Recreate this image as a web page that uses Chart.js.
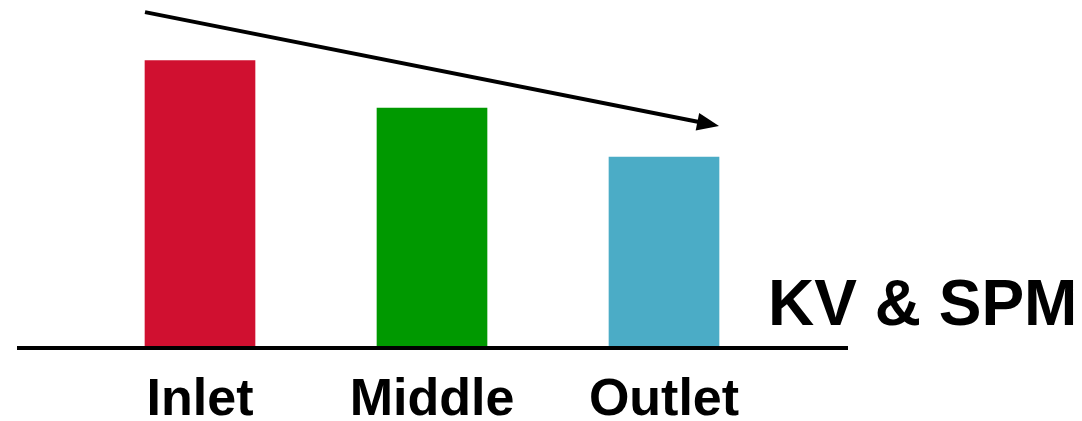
<!DOCTYPE html>
<html>
<head>
<meta charset="utf-8">
<script src="https://cdn.jsdelivr.net/npm/chart.js@4/dist/chart.umd.min.js"></script>
<style>
  html, body { margin: 0; padding: 0; background: #fff; }
  #wrap { width: 1082px; height: 421px; position: relative; }
</style>
</head>
<body>
<div id="wrap"><canvas id="chart"></canvas></div>
<script>
// Chart data
const categories = ['Inlet', 'Middle', 'Outlet'];
const values = [99, 82.5, 65.5];
const barColors = ['#d01030', '#009900', '#4bacc6'];
// trend arrow, start and end height in the same units
const trendStart = 115.8;
const trendEnd = 76.3;
const sideLabel = 'KV & SPM';

// Draws baseline, arrow and text labels
const decorPlugin = {
    id: 'decor',
    afterDatasetsDraw(chart) {
        const ctx = chart.ctx;
        const area = chart.chartArea;
        const y = chart.scales.y;
        const bars = chart.getDatasetMeta(0).data;

        ctx.save();
        // baseline
        ctx.strokeStyle = '#000';
        ctx.lineWidth = 4;
        ctx.beginPath();
        ctx.moveTo(area.left - 67, area.bottom + 2);
        ctx.lineTo(area.right + 68, area.bottom + 2);
        ctx.stroke();

        // trend arrow from left edge of first bar to right edge of last
        const first = bars[0], last = bars[bars.length - 1];
        const x0 = first.x - first.width / 2;
        const x1 = last.x + last.width / 2;
        const y0 = y.getPixelForValue(trendStart);
        const y1 = y.getPixelForValue(trendEnd);
        const ang = Math.atan2(y1 - y0, x1 - x0);
        ctx.lineWidth = 4;
        ctx.beginPath();
        ctx.moveTo(x0, y0);
        ctx.lineTo(x1 - 14 * Math.cos(ang), y1 - 14 * Math.sin(ang));
        ctx.stroke();
        ctx.fillStyle = '#000';
        ctx.beginPath();
        ctx.moveTo(x1, y1);
        ctx.lineTo(x1 - 22 * Math.cos(ang) + 9 * Math.sin(ang), y1 - 22 * Math.sin(ang) - 9 * Math.cos(ang));
        ctx.lineTo(x1 - 22 * Math.cos(ang) - 9 * Math.sin(ang), y1 - 22 * Math.sin(ang) + 9 * Math.cos(ang));
        ctx.closePath();
        ctx.fill();

        // category labels
        ctx.font = 'bold 52px "Liberation Sans", Arial, sans-serif';
        ctx.textAlign = 'center';
        ctx.textBaseline = 'alphabetic';
        bars.forEach((bar, i) => {
            ctx.fillText(categories[i], bar.x, area.bottom + 69);
        });

        // side label
        ctx.font = 'bold 64px "Liberation Sans", Arial, sans-serif';
        ctx.textAlign = 'left';
        ctx.fillText(sideLabel, 768, area.bottom - 21);
        ctx.restore();
    }
};

document.addEventListener('DOMContentLoaded', () => {
    const ctx = document.getElementById('chart').getContext('2d');
    new Chart(ctx, {
        type: 'bar',
        data: {
            labels: categories,
            datasets: [{
                data: values,
                backgroundColor: barColors,
                borderWidth: 0,
                barThickness: 110
            }]
        },
        options: {
            responsive: true,
            maintainAspectRatio: false,
            animation: false,
            layout: {
                padding: { left: 84, right: 302, top: 0, bottom: 75 }
            },
            plugins: {
                legend: { display: false },
                tooltip: { enabled: false }
            },
            scales: {
                x: { display: false },
                y: { display: false, min: 0, max: 120 }
            }
        },
        plugins: [decorPlugin]
    });
});
</script>
</body>
</html>
